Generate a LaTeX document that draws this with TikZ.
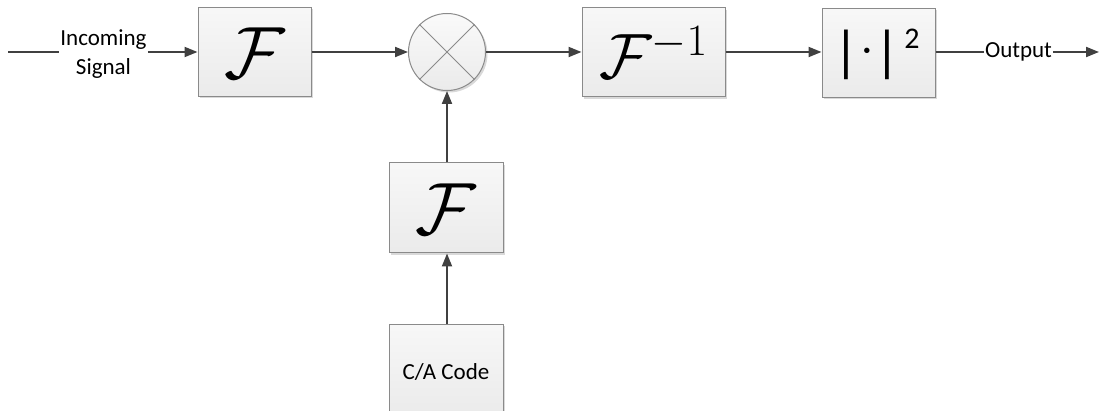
\RequirePackage{fix-cm}
\documentclass[tikz,border=0pt]{standalone}
\usepackage{fontspec}
\setmainfont{Carlito}
\usetikzlibrary{arrows.meta,shadows}
\definecolor{wire}{HTML}{404040}
\definecolor{edge}{HTML}{8A8A8A}
\tikzset{
  blockbox/.style={draw=edge, line width=1pt, top color=black!3, bottom color=black!8,
    minimum width=113pt, minimum height=89pt, inner sep=0pt,
    drop shadow={shadow xshift=2pt, shadow yshift=-2pt, fill=black!25, opacity=0.6}},
  mixer/.style={circle, draw=edge, line width=1pt, top color=black!2, bottom color=black!8,
    minimum size=77pt, inner sep=0pt,
    drop shadow={shadow xshift=2pt, shadow yshift=-2pt, fill=black!25, opacity=0.6}},
  wirearrow/.style={draw=wire, line width=2pt, -{Triangle[length=13pt,width=10pt]}},
  wireplain/.style={draw=wire, line width=2pt},
  label/.style={font=\fontsize{23}{29}\selectfont, inner sep=1pt, align=center},
  bigF/.style={font=\fontsize{74}{74}\selectfont}
}
\begin{document}
\begin{tikzpicture}[x=1pt,y=-1pt]
  \useasboundingbox (0,0) rectangle (1099,411);
  % blocks
  \node[blockbox] (fft) at (254.5,52) {};
  \node[bigF] at ([yshift=-1pt]fft.center) {$\mathcal{F}$};
  \node[mixer] (mix) at (447,52) {};
  \node[blockbox, minimum width=143pt] (ifft) at (653.5,52.5) {};
  \node[font=\fontsize{64}{64}\selectfont] at (ifft) {$\mathcal{F}^{-1}$};
  \node[blockbox] (mag) at (878.5,53) {};
  \node[inner sep=0pt] at ([xshift=-2pt,yshift=-1pt]mag.center)
    {\fontsize{56}{56}\selectfont |\kern3pt\raisebox{8.5pt}{\fontsize{38}{38}\selectfont ·}\kern3pt|\kern4pt\raisebox{22pt}{\fontsize{30}{30}\selectfont 2}};
  \node[blockbox, minimum width=114pt, minimum height=90pt] (cfft) at (446,208) {};
  \node[bigF] at ([yshift=-1pt]cfft.center) {$\mathcal{F}$};
  \node[blockbox, minimum width=114pt, minimum height=92pt] (code) at (446,370) {};
  \node[label] at ([yshift=-2pt]code.center) {C/A Code};
  % mixer cross
  \draw[edge, line width=1pt] (mix.45) -- (mix.225) (mix.135) -- (mix.315);
  % text on the signal line
  \coordinate (in) at (8,52);
  \node[label] (insig) at (103.5,54) {Incoming\\Signal};
  \node[label] (out) at (1018.5,52) {Output};
  \coordinate (end) at (1099,52);
  % connectors
  \draw[wireplain] (in) -- (insig.west |- in);
  \draw[wirearrow] (insig.east |- in) -- (fft.west);
  \draw[wirearrow] (fft.east) -- (mix.west);
  \draw[wirearrow] (mix.east) -- (ifft.west |- mix.east);
  \draw[wirearrow] (ifft.east |- mix.east) -- (mag.west |- mix.east);
  \draw[wireplain] (mag.east |- mix.east) -- (out.west);
  \draw[wirearrow] (out.east) -- (end);
  \draw[wirearrow] (cfft.north -| mix.south) -- (mix.south);
  \draw[wirearrow] (code.north -| mix.south) -- (cfft.south -| mix.south);
\end{tikzpicture}
\end{document}
